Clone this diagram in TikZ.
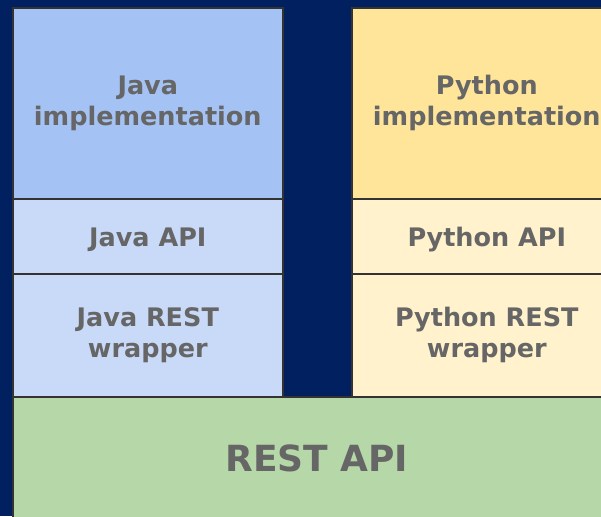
\documentclass[tikz,border=0pt]{standalone}
\usepackage{fontspec}
\setmainfont{DejaVu Sans}
\definecolor{navybg}{HTML}{002060}
\definecolor{javadark}{HTML}{A4C2F4}
\definecolor{javalight}{HTML}{C9DAF8}
\definecolor{pydark}{HTML}{FFE599}
\definecolor{pylight}{HTML}{FFF2CC}
\definecolor{restgreen}{HTML}{B6D7A8}
\definecolor{labelgrey}{HTML}{666666}
\begin{document}
\begin{tikzpicture}[x=1pt,y=-1pt,
  layer/.style={draw=black!80, line width=1.6pt, anchor=north west, inner sep=0pt,
    align=center, text=labelgrey, minimum width=270pt,
    font=\bfseries\fontsize{25.5}{31}\selectfont,
    execute at begin node={\rule{0pt}{25pt}}}]
    \useasboundingbox (0,0) rectangle (601,516);
    \fill[navybg] (0,0) rectangle (601,516);
    \clip (0,0) rectangle (601,516);
    % Java column
    \node[layer, fill=javadark, minimum height=191pt] (javaImpl) at (12,7) {Java\\implementation};
    \node[layer, fill=javalight, minimum height=75pt] (javaApi) at (12,198) {Java API};
    \node[layer, fill=javalight, minimum height=123pt] (javaRest) at (12,273) {Java REST\\wrapper};
    % Python column
    \node[layer, fill=pydark, minimum height=191pt] (pyImpl) at (351,7) {Python\\implementation};
    \node[layer, fill=pylight, minimum height=75pt] (pyApi) at (351,198) {Python API};
    \node[layer, fill=pylight, minimum height=123pt] (pyRest) at (351,273) {Python REST\\wrapper};
    % shared base
    \node[layer, fill=restgreen, minimum width=608pt, minimum height=124pt,
      font=\bfseries\fontsize{36}{40}\selectfont,
      execute at begin node={}] (restApi) at (12,396) {REST API};
\end{tikzpicture}
\end{document}
